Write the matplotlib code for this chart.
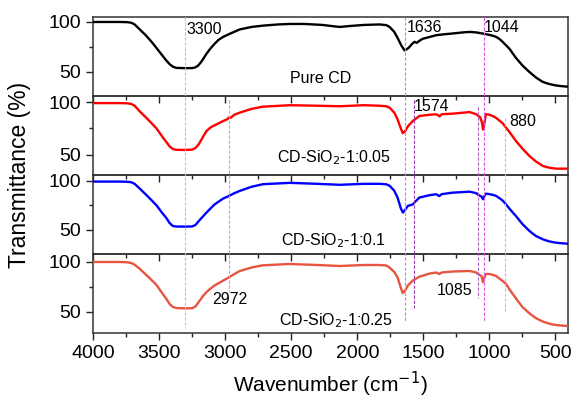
import matplotlib
matplotlib.use('Agg')
import matplotlib.pyplot as plt
from matplotlib.ticker import MultipleLocator
from matplotlib.transforms import blended_transform_factory

plt.rcParams['font.family'] = ['Liberation Sans', 'DejaVu Sans']

# FTIR spectra (wavenumber in cm-1, transmittance in %)
wn_cd = [4000, 3800, 3740, 3710, 3685, 3650, 3600, 3550, 3500, 3450, 3420, 3395, 3370, 3300,
         3250, 3227, 3205, 3180, 3141, 3110, 3080, 3050, 3015, 2950, 2889, 2800, 2715, 2600,
         2511, 2400, 2262, 2200, 2133, 2050, 1950, 1830, 1780, 1755, 1720, 1695, 1665, 1642,
         1620, 1604, 1585, 1566, 1550, 1530, 1506, 1450, 1402, 1350, 1279, 1200, 1150, 1100,
         1052, 1000, 970, 949, 920, 900, 870, 848, 800, 748, 700, 646, 600, 570, 545, 500,
         460, 420, 405]
t_cd = [100, 100, 99.8, 99.2, 97.5, 93, 86.5, 79, 70.5, 62, 57.5, 55, 53.8, 53.5,
        53.6, 54.2, 56, 60, 68, 73.5, 78, 82, 85, 89, 92.5, 95, 96.3, 97.5,
        98, 98, 97, 96, 95, 96, 97, 97.5, 96.8, 95, 90, 84, 76, 71.4,
        73, 75, 78, 80, 79, 81, 83, 85, 86.7, 87.5, 88.4, 89.5, 90, 89.5,
        88.4, 87, 86, 85, 82.5, 80, 76, 73, 64, 56, 50, 44, 40, 38.5, 37.5, 36.2,
        35.5, 35, 35]

wn_s1 = [4000, 3800, 3740, 3710, 3685, 3645, 3580, 3519, 3480, 3444, 3420, 3395, 3370, 3300,
         3250, 3225, 3200, 3170, 3141, 3110, 3080, 3015, 2980, 2972, 2960, 2930, 2889, 2800,
         2715, 2511, 2300, 2133, 1950, 1830, 1780, 1755, 1720, 1695, 1670, 1655, 1635, 1617,
         1580, 1530, 1450, 1402, 1376, 1360, 1279, 1150, 1100, 1085, 1069, 1055, 1048, 1040,
         1027, 1000, 970, 949, 920, 900, 874, 850, 798, 750, 697, 650, 596, 570, 550, 520,
         495, 450, 405]
t_s1 = [99, 99, 98.8, 98.2, 96.5, 91, 83, 75, 68, 62, 58, 55.5, 54.8, 54.7,
        55, 56.5, 60, 66.5, 72.6, 76, 78, 82, 84, 85.5, 85, 88, 90, 93.5,
        95.6, 97, 96.5, 96, 97, 96.5, 96, 94.6, 90, 83.6, 75, 70.5, 73, 77,
        82, 86.8, 88, 88.4, 86.5, 88.5, 89, 90.5, 88.5, 87, 85.5, 80, 74, 78,
        88.5, 88, 86.5, 85, 82, 80, 75.8, 72, 63, 56, 49, 44, 39.6, 38.6, 38, 37.4,
        37, 37, 37]

wn_s2 = [4000, 3800, 3740, 3710, 3685, 3645, 3580, 3519, 3480, 3444, 3420, 3395, 3370, 3300,
         3250, 3225, 3200, 3170, 3141, 3110, 3080, 3015, 2972, 2930, 2889, 2800, 2715, 2511,
         2300, 2133, 1950, 1830, 1780, 1755, 1720, 1695, 1670, 1655, 1635, 1617, 1580, 1560,
         1530, 1450, 1402, 1380, 1360, 1279, 1150, 1100, 1086, 1060, 1048, 1040, 1027, 1000,
         970, 949, 920, 900, 874, 850, 798, 750, 697, 650, 596, 570, 550, 520, 495, 450, 405]
t_s2 = [99.3, 99.3, 99.1, 98.6, 97, 92, 83.5, 75, 68, 62, 57, 54, 53.5, 53.4,
        53.6, 55, 59, 63.5, 67.7, 72, 76, 82, 84.6, 87.5, 89.8, 94, 96.6, 98,
        97, 96, 97, 97, 96.5, 95, 90, 83, 72, 67.7, 71, 74.5, 76, 79,
        83, 85.5, 86.4, 84.5, 86.5, 88, 89, 87.5, 86, 84, 81.3, 84, 87, 86.5,
        85.6, 84.7, 82, 80, 76, 72, 64, 56, 49, 44, 40.5, 39.3, 38.5, 37.6, 37, 36.4, 36]

wn_s3 = [4000, 3800, 3750, 3720, 3690, 3645, 3580, 3519, 3480, 3444, 3420, 3395, 3370, 3300,
         3250, 3225, 3200, 3170, 3141, 3110, 3080, 3015, 2972, 2930, 2889, 2800, 2715, 2511,
         2300, 2133, 1950, 1830, 1780, 1755, 1720, 1695, 1670, 1655, 1635, 1617, 1580, 1530,
         1450, 1402, 1380, 1360, 1279, 1150, 1100, 1086, 1060, 1048, 1040, 1027, 1000, 970,
         949, 920, 900, 874, 850, 798, 750, 697, 650, 596, 570, 550, 520, 495, 450, 405]
t_s3 = [100, 100, 99.8, 99.3, 97.8, 93, 85, 77, 69.5, 63, 58, 55, 54, 53.6,
        53.8, 55.5, 60, 65.5, 70, 73.5, 76.5, 81.4, 84.6, 88, 91, 94.5, 96.7, 98,
        97, 96, 97, 97, 96.5, 94.4, 90, 84.6, 74, 68.9, 72, 76.5, 81.4, 85.3,
        88.5, 89.5, 88, 89.5, 90.5, 91, 89.5, 88, 86, 79.7, 84, 88, 88, 87,
        86, 83, 81, 78, 73, 63.4, 55, 48.7, 44, 40.5, 39.3, 38.5, 37.6, 37, 36.4, 36]

series_wn = [wn_cd, wn_s1, wn_s2, wn_s3]
series_t = [t_cd, t_s1, t_s2, t_s3]
series_colors = ['black', '#ff0000', '#0000ff', '#e6553f']
sample_names = ['Pure CD', 'CD-SiO$_2$-1:0.05', 'CD-SiO$_2$-1:0.1', 'CD-SiO$_2$-1:0.25']
name_pos = [(2277, 43), (2178, 47), (2178, 38.8), (2160, 41)]
ylims = [(25.5, 105), (31, 105.7), (25.5, 106), (29, 108)]

# peak markers: wavenumber, top/bottom in figure pixels, colour
peaks = [3300, 2972, 1636, 1574, 1085, 1044, 880]
peak_spans = [(17, 328), (100, 292), (17, 322), (100, 308), (107, 298), (17, 322), (118, 313)]
peak_colors = ['#f0a0f0', '#d890e0', '#e870e8', '#9a3cb0', '#b060c0', '#e050e0', '#f0a0f0']

# peak labels: panel, x, y
peak_labels = [('3300', 0, 3290, 92), ('1636', 0, 1627, 94), ('1044', 0, 1045, 94),
               ('1574', 1, 1574, 96), ('880', 1, 848, 82),
               ('2972', 3, 3100, 62.7), ('1085', 3, 1400, 71.6)]

W, H = 574, 404
fig = plt.figure(figsize=(W / 100, H / 100), dpi=100)
fig.patch.set_facecolor('white')
gs = fig.add_gridspec(4, 1, left=93 / W, right=568 / W, top=1 - 17 / H, bottom=1 - 333 / H, hspace=0)
axes = [fig.add_subplot(gs[i]) for i in range(4)]

for i, ax in enumerate(axes):
    ax.set_facecolor('none')
    ax.plot(series_wn[i], series_t[i], color=series_colors[i], lw=1.7, zorder=3,
            solid_joinstyle='round')
    ax.set_xlim(4000, 405)
    ax.set_ylim(*ylims[i])
    ax.set_yticks([50, 100])
    ax.yaxis.set_minor_locator(MultipleLocator(25))
    ax.xaxis.set_major_locator(MultipleLocator(500))
    ax.xaxis.set_minor_locator(MultipleLocator(250))
    ax.tick_params(axis='both', which='major', direction='out', length=5, width=1, labelsize=14,
                   top=False, right=False, colors='#222222')
    ax.tick_params(axis='both', which='minor', direction='out', length=3, width=1,
                   top=False, right=False, colors='#222222')
    ax.tick_params(axis='both', labelcolor='black')
    for sp in ax.spines.values():
        sp.set_linewidth(1.1)
        sp.set_color('#333333')
    if i < 3:
        ax.tick_params(axis='x', labelbottom=False)
    ax.text(*name_pos[i], sample_names[i], fontsize=11.5, ha='center', va='center')

for text, p, x, y in peak_labels:
    axes[p].text(x, y, text, fontsize=11.5, ha='left', va='center', zorder=4)

for wn, (ytop, ybot), c in zip(peaks, peak_spans, peak_colors):
    tr = blended_transform_factory(axes[0].transData, fig.transFigure)
    fig.add_artist(plt.Line2D([wn, wn], [1 - ytop / H, 1 - ybot / H], transform=tr,
                              color=c, lw=0.8, ls=(0, (3, 1.5)), zorder=2))

axes[3].set_xlabel('Wavenumber (cm$^{-1}$)', fontsize=15, labelpad=6)
fig.text(20 / W, 1 - 175 / H, 'Transmittance (%)', rotation=90, fontsize=16.5,
         ha='center', va='center')

fig.savefig('out.png', dpi=100)
